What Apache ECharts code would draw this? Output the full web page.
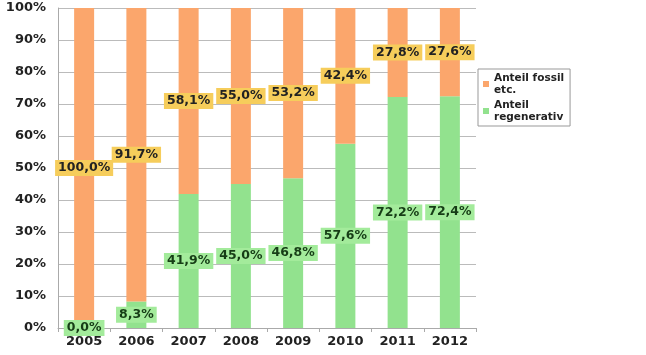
<!DOCTYPE html>
<html><head><meta charset="utf-8">
<script src="https://cdn.jsdelivr.net/npm/echarts@6/dist/echarts.min.js"></script>
<style>html,body{margin:0;padding:0;background:#fff}#c{width:646px;height:355px}</style>
</head><body><div id="c"></div>
<script>
const years = ['2005','2006','2007','2008','2009','2010','2011','2012'];
const regenerativ = [0.0, 8.3, 41.9, 45.0, 46.8, 57.6, 72.2, 72.4];
const fossil = [100.0, 91.7, 58.1, 55.0, 53.2, 42.4, 27.8, 27.6];
const yTicks = ['0%','10%','20%','30%','40%','50%','60%','70%','80%','90%','100%'];

const FONT = 'DejaVu Sans';
const fmt = p => p.value.toFixed(1).replace('.', ',') + '%';
const chart = echarts.init(document.getElementById('c'));
chart.setOption({
  animation: false,
  textStyle: { fontFamily: FONT },
  grid: { left: 58, right: 170, top: 8, bottom: 27 },
  legend: {
    orient: 'vertical',
    left: 478, top: 69,
    data: ['Anteil fossil etc.', 'Anteil regenerativ'],
    formatter: n => n === 'Anteil fossil etc.' ? 'Anteil fossil\netc.' : 'Anteil\nregenerativ',
    icon: 'rect', itemWidth: 6, itemHeight: 6, itemGap: 3,
    borderColor: '#999', borderWidth: 1, padding: [3, 6, 3, 5],
    backgroundColor: '#fff',
    textStyle: { fontFamily: FONT, fontWeight: 'bold', fontSize: 10.5, color: '#222', lineHeight: 12 }
  },
  xAxis: {
    type: 'category', data: years,
    axisLine: { lineStyle: { color: '#aaa' } },
    axisTick: { show: true, length: 4, lineStyle: { color: '#aaa' } },
    axisLabel: { fontFamily: FONT, fontWeight: 'bold', fontSize: 13, color: '#222', margin: 7 }
  },
  yAxis: {
    type: 'value', min: 0, max: 100, interval: 10,
    axisLine: { show: true, lineStyle: { color: '#aaa' } },
    axisTick: { show: false },
    splitLine: { lineStyle: { color: '#bbb' } },
    axisLabel: { fontFamily: FONT, fontWeight: 'bold', fontSize: 13, color: '#222', margin: 12,
      formatter: v => yTicks[Math.round(v / 10)] }
  },
  series: [
    { name: 'Anteil regenerativ', type: 'bar', stack: 's', data: regenerativ, barWidth: 20,
      itemStyle: { color: '#92e28e' },
      label: { show: true, position: 'inside', formatter: fmt, fontFamily: FONT, fontWeight: 'bold',
        fontSize: 12.5, color: '#163d16', backgroundColor: '#a3eb9b', padding: [2, 3, 1, 3] } },
    { name: 'Anteil fossil etc.', type: 'bar', stack: 's', data: fossil, barWidth: 20,
      itemStyle: { color: '#fba66c' },
      label: { show: true, position: 'inside', formatter: fmt, fontFamily: FONT, fontWeight: 'bold',
        fontSize: 12.5, color: '#222', backgroundColor: '#f6cd5b', padding: [2, 3, 1, 3] } }
  ]
});
</script></body></html>
